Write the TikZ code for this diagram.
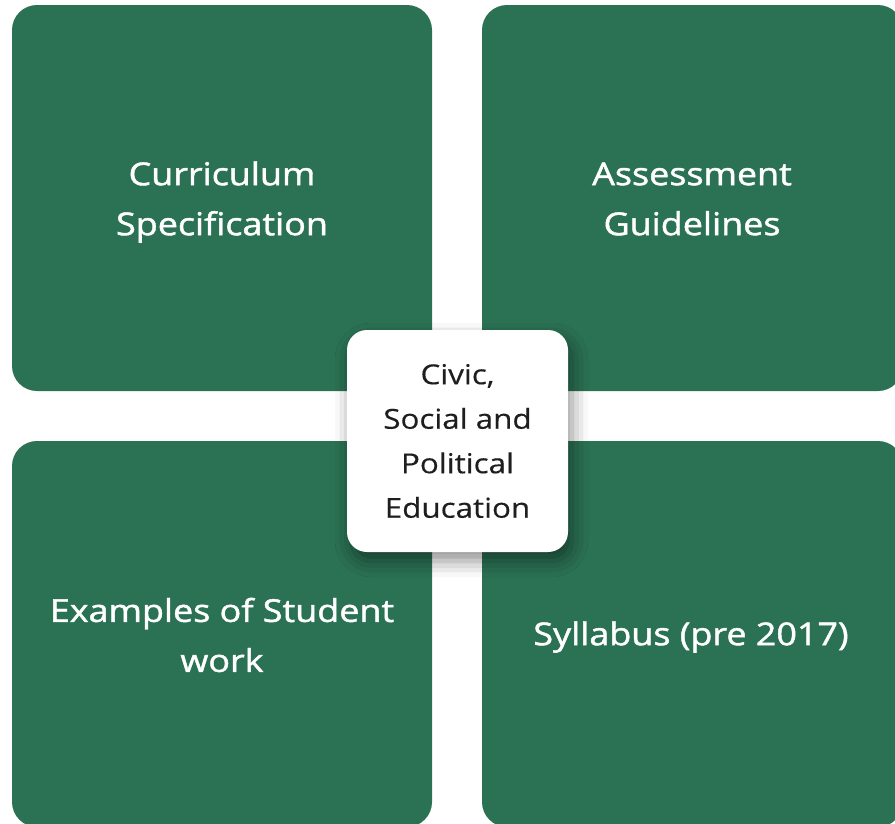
\documentclass[tikz,border=0pt]{standalone}
\usepackage{fontspec}
\setmainfont{Open Sans}
\newfontfamily\panelfont{Open Sans}[FakeStretch=1.14, FakeBold=1.4]
\newfontfamily\hubfont{Open Sans}[FakeStretch=1.14, FakeBold=0.3]
\usetikzlibrary{shadows.blur}
\definecolor{panelgreen}{HTML}{2B7254}
\definecolor{hubtext}{HTML}{1E1E1E}
\tikzset{
  panel/.style={fill=panelgreen, draw=none, rounded corners=25pt},
  paneltext/.style={text=white, align=center, font=\panelfont\fontsize{31.5}{50}\selectfont},
  hub/.style={fill=white, draw=none, rounded corners=20pt,
    blur shadow={shadow xshift=4pt, shadow yshift=-9pt, shadow blur radius=16pt, shadow opacity=45},
    minimum width=221pt, minimum height=222pt, inner sep=0pt,
    text=hubtext, align=center, font=\hubfont\fontsize{27.5}{44.5}\selectfont},
}
\begin{document}
\begin{tikzpicture}[x=1pt, y=-1pt]
  \useasboundingbox (0,0) rectangle (895,823);
  % four panels
  \path[panel] (12,5) rectangle (432,391);
  \path[panel] (482,5) rectangle (903,391);
  \path[panel] (12,441) rectangle (432,827);
  \path[panel] (482,441) rectangle (903,827);
  % panel labels
  \node[paneltext] (curr) at (222,202) {Curriculum\\Specification};
  \node[paneltext] (assess) at (692,199) {Assessment\\Guidelines};
  \node[paneltext] (examples) at (222,635) {Examples of Student\\work};
  \node[paneltext] (syllabus) at (691,637) {Syllabus (pre 2017)};
  % central hub
  \node[hub] (hubnode) at (457.5,441) {Civic,\\Social and\\Political\\Education};
\end{tikzpicture}
\end{document}
